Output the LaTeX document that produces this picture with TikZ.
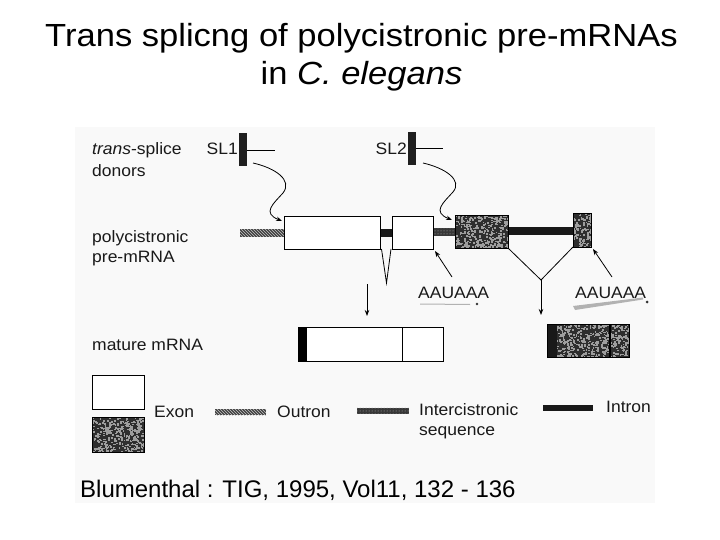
\documentclass[tikz,border=0pt]{standalone}
\usepackage{fontspec}
\setmainfont{Liberation Sans}
\newfontfamily\diagfont[FakeStretch=1.06]{Liberation Sans}
\newfontfamily\titlefont[FakeStretch=1.08]{Liberation Sans}
\newfontfamily\handfont{Liberation Sans}
\usetikzlibrary{patterns,arrows.meta,calc}
\tikzset{
  boxline/.style={draw=black, line width=0.9pt},
  exonbox/.style={boxline, fill=white, rectangle, inner sep=0pt, anchor=north west},
  stipbox/.style={boxline, fill=black!82, rectangle, inner sep=0pt, anchor=north west},
  outronbar/.style={rectangle, inner sep=0pt, fill=black!75, postaction={pattern=north west lines, pattern color=gray!45}, anchor=west},
  interbar/.style={rectangle, inner sep=0pt, fill=black!78, postaction={pattern=dots, pattern color=gray!55}, anchor=west},
  intronbar/.style={rectangle, inner sep=0pt, fill=black!90, anchor=west},
  slbar/.style={rectangle, inner sep=0pt, fill=black!88, minimum width=8, minimum height=33},
  lbl/.style={anchor=base west, inner sep=0pt, font=\diagfont\fontsize{16.5}{19}\selectfont, text=black!90},
  thinline/.style={draw=black, line width=0.8pt},
  arr/.style={thinline, -{Stealth[length=6pt,width=4.5pt]}},
  smudge/.style={gray!60, line width=1.2pt},
  speck/.style={fill=white!62!black},
}
% random speckle texture: x1 y1 x2 y2 count
\newcommand{\mystipple}[5]{%
  \begin{scope}
    \clip (#1,#2) rectangle (#3,#4);
    \foreach \k in {1,...,#5}{%
      \pgfmathsetmacro{\rx}{#1+rnd*(#3-#1)}%
      \pgfmathsetmacro{\ry}{#2+rnd*(#4-#2)}%
      \fill[speck] (\rx,\ry) rectangle ++(1.8,1.6);
    }
  \end{scope}
}
\begin{document}
\begin{tikzpicture}[x=1pt,y=-1pt]
\pgfmathsetseed{17}
\useasboundingbox (0,0) rectangle (720,540);
\fill[white] (0,0) rectangle (720,540);
\fill[gray!5] (75,127) rectangle (655,503);

% title
\node[anchor=base, inner sep=0pt, font=\titlefont\fontsize{32}{38}\selectfont] (title1) at (361.5,47) {Trans splicng of polycistronic pre-mRNAs};
\node[anchor=base, inner sep=0pt, font=\titlefont\fontsize{32}{38}\selectfont] (title2) at (361.5,85) {in \textit{C. elegans}};

% left labels
\node[lbl] (lt1) at (92,154.5) {\textit{trans}-splice};
\node[lbl] (lt2) at (92,177) {donors};
\node[lbl] (lp1) at (92,242.5) {polycistronic};
\node[lbl] (lp2) at (92,262.5) {pre-mRNA};
\node[lbl] (lm) at (92,350.5) {mature mRNA};

% SL donors
\node[slbar, anchor=north west] (sl1bar) at (239,133) {};
\node[lbl, anchor=base east] (sl1) at (238,155) {SL1};
\coordinate (sl1end) at (275,150.5);
\draw[thinline] (sl1bar.east |- sl1end) -- (sl1end);

\node[slbar, anchor=north west] (sl2bar) at (408,132) {};
\node[lbl, anchor=base east] (sl2) at (407,154.5) {SL2};
\coordinate (sl2end) at (443,148.5);
\draw[thinline] (sl2bar.east |- sl2end) -- (sl2end);

% pre-mRNA
\node[outronbar, minimum width=44, minimum height=7] (outron) at (240,233) {};
\node[intronbar, minimum width=14, minimum height=7] (intron1) at (379,233) {};
\node[interbar, minimum width=24, minimum height=7] (inter) at (432,232) {};
\node[intronbar, minimum width=67, minimum height=8] (intron2) at (507,231) {};
\node[exonbox, minimum width=96, minimum height=33] (ex1) at (284,216) {};
\node[exonbox, minimum width=41, minimum height=33] (ex2) at (392,216) {};
\node[stipbox, minimum width=53, minimum height=33] (gb1) at (455,215) {};
\mystipple{455}{215}{508}{248}{330}
\draw[boxline] (gb1.north west) rectangle (gb1.south east);
\node[stipbox, minimum width=18, minimum height=34] (gb2) at (573,213) {};
\mystipple{573}{213}{591}{247}{115}
\draw[boxline] (gb2.north west) rectangle (gb2.south east);

% wavy arrows
\coordinate (w1s) at (253,163);
\coordinate (w1e) at (282,221);
\draw[arr] (w1s) .. controls (275,168) and (293,180) .. (283,193) .. controls (273,204) and (262,213) .. (w1e);
\coordinate (w2s) at (423,163);
\coordinate (w2e) at (452,220);
\draw[arr] (w2s) .. controls (445,168) and (463,180) .. (453,192) .. controls (443,203) and (432,212) .. (w2e);

% intron splice V shapes
\coordinate (v1a) at (381.5,249);
\coordinate (v1b) at (386.5,283);
\coordinate (v1c) at (391,249);
\draw[thinline, line join=miter] (v1a) -- (v1b) -- (v1c);
\coordinate (v2a) at (508,248);
\coordinate (v2b) at (541,280);
\coordinate (v2c) at (573,247);
\draw[thinline] (v2a) -- (v2b) -- (v2c);

% down arrows
\coordinate (d1s) at (367,284);
\coordinate (d1e) at (367,316);
\draw[arr] (d1s) -- (d1e);
\coordinate (d2e) at (541,315);
\draw[arr] (v2b) -- (d2e);

% AAUAAA
\node[lbl] (aa1) at (418,298.5) {AAUAAA};
\node[lbl] (aa2) at (575,298.5) {AAUAAA};
\coordinate (a1s) at (452,277);
\coordinate (a1e) at (435,251);
\draw[arr] (a1s) -- (a1e);
\coordinate (a2s) at (612,277);
\coordinate (a2e) at (593,249);
\draw[arr] (a2s) -- (a2e);
\draw[smudge, line width=1pt] (420,304) -- (470,304.5);
\fill[black!80] (477,304) circle (1.4);
\fill[gray!60] (573,306) -- (643,297.5) -- (643,299.5) -- (575,310) -- cycle;
\fill[black!80] (647,302) circle (1.5);

% mature mRNAs
\node[exonbox, minimum width=145, minimum height=34] (m1) at (298,327) {};
\node[rectangle, inner sep=0pt, fill=black, anchor=north west, minimum width=8.5, minimum height=33] (m1band) at ($(m1.north west)+(0.5,0.5)$) {};
\draw[boxline] ($(m1.north west)+(104,0)$) -- ($(m1.south west)+(104,0)$);
\draw[boxline] (m1.north west) rectangle (m1.south east);

\node[stipbox, minimum width=82, minimum height=33] (m2) at (547,324) {};
\mystipple{547}{324}{629}{357}{500}
\node[rectangle, inner sep=0pt, fill=black!90, anchor=north west, minimum width=9, minimum height=32] (m2band) at ($(m2.north west)+(0.5,0.5)$) {};
\draw[draw=black, line width=1.3pt] ($(m2.north west)+(63,0)$) -- ($(m2.south west)+(63,0)$);
\draw[boxline] (m2.north west) rectangle (m2.south east);

% legend
\node[exonbox, minimum width=52, minimum height=34] (legex) at (92,375) {};
\node[stipbox, minimum width=52, minimum height=35] (leggb) at (92,417) {};
\mystipple{92}{417}{144}{452}{340}
\draw[boxline] (leggb.north west) rectangle (leggb.south east);
\node[lbl] (lexon) at (154,417.5) {Exon};
\node[outronbar, minimum width=51, minimum height=6] (legout) at (215,412) {};
\node[lbl] (lout) at (277,417.5) {Outron};
\node[interbar, minimum width=52, minimum height=6] (legint) at (357,410.5) {};
\node[lbl] (lint1) at (419,415.5) {Intercistronic};
\node[lbl] (lint2) at (419,435.5) {sequence};
\node[intronbar, minimum width=50, minimum height=6] (legintr) at (543,408) {};
\node[lbl] (lintr) at (606,412.5) {Intron};

% reference
\node[anchor=base west, inner sep=0pt, font=\handfont\fontsize{24}{28}\selectfont] (ref) at (80,497) {Blumenthal : TIG, 1995, Vol11, 132 - 136};
\end{tikzpicture}
\end{document}
